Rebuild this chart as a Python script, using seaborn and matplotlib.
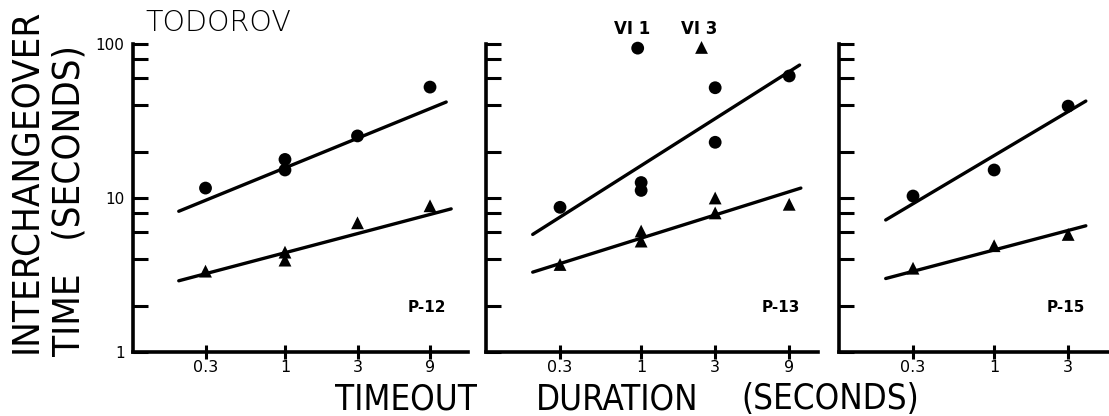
import numpy as np
import pandas as pd
import matplotlib
matplotlib.use("Agg")
import matplotlib.pyplot as plt
import matplotlib.ticker as mticker
from matplotlib import font_manager
import seaborn as sns

# ---- data ----
panels = ["P-12", "P-13", "P-15"]

p12_circ_x = [0.3, 1, 1, 3, 9]
p12_circ_y = [11.6, 17.8, 15.2, 25.3, 52.5]
p12_tri_x = [0.3, 1, 1, 3, 9]
p12_tri_y = [3.35, 4.45, 3.95, 6.9, 8.9]

p13_circ_x = [0.3, 1, 1, 3, 3, 9, 0.95]
p13_circ_y = [8.7, 12.6, 11.2, 52, 23, 62, 94]
p13_tri_x = [0.3, 1, 1, 3, 3, 9, 2.45]
p13_tri_y = [3.7, 6.1, 5.25, 10, 8.0, 9.1, 95]

p15_circ_x = [0.3, 1, 3]
p15_circ_y = [10.3, 15.2, 39.5]
p15_tri_x = [0.3, 1, 3]
p15_tri_y = [3.5, 4.9, 5.8]

# fitted lines (end points)
fit_x = {"P-12": [0.2, 11.5], "P-13": [0.2, 10.5], "P-15": [0.2, 3.9]}
fit_circ_y = {"P-12": [8.2, 42], "P-13": [5.8, 73], "P-15": [7.2, 42.6]}
fit_tri_x = {"P-12": [0.2, 12.4], "P-13": [0.2, 10.7], "P-15": [0.2, 3.9]}
fit_tri_y = {"P-12": [2.9, 8.5], "P-13": [3.3, 11.6], "P-15": [3.0, 6.6]}

x_ticks = {"P-12": [0.3, 1, 3, 9], "P-13": [0.3, 1, 3, 9], "P-15": [0.3, 1, 3]}
x_ticklabels = {"P-12": ["0.3", "1", "3", "9"], "P-13": ["0.3", "1", "3", "9"],
                "P-15": ["0.3", "1", "3"]}
y_ticks = [1, 10, 100]
y_ticklabels = ["1", "10", "100"]

rows = []
for name, cx, cy, tx, ty in [("P-12", p12_circ_x, p12_circ_y, p12_tri_x, p12_tri_y),
                             ("P-13", p13_circ_x, p13_circ_y, p13_tri_x, p13_tri_y),
                             ("P-15", p15_circ_x, p15_circ_y, p15_tri_x, p15_tri_y)]:
    for x, y in zip(cx, cy):
        rows.append((name, x, y, "circle"))
    for x, y in zip(tx, ty):
        rows.append((name, x, y, "triangle"))
df = pd.DataFrame(rows, columns=["panel", "timeout", "ico", "kind"])

fit_rows = []
for name in panels:
    for x, y in zip(fit_x[name], fit_circ_y[name]):
        fit_rows.append((name, x, y, "circle"))
    for x, y in zip(fit_tri_x[name], fit_tri_y[name]):
        fit_rows.append((name, x, y, "triangle"))
fits = pd.DataFrame(fit_rows, columns=["panel", "timeout", "ico", "kind"])

# ---- style ----
sns.set_style("ticks")
plt.rcParams["font.family"] = ["DejaVu Sans"]
plt.rcParams["text.color"] = "black"
plt.rcParams["xtick.color"] = "black"
plt.rcParams["ytick.color"] = "black"
plt.rcParams["axes.edgecolor"] = "black"

# look for a narrow face for the big hand-lettered labels
big = {"family": "DejaVu Sans", "stretch": "normal"}
narrow = False
for f in font_manager.fontManager.ttflist:
    if "Narrow" in f.name or "Condensed" in f.name:
        big = {"family": f.name, "stretch": "normal"}
        narrow = True
        break
    if f.stretch in ("condensed", "semi-condensed", "extra-condensed"):
        big = {"family": f.name, "stretch": f.stretch}
        narrow = True
        break
big_size = 25 if narrow else 21
ylab_size = 27.5 if narrow else 22

W, H = 1109, 416
fig = plt.figure(figsize=(W / 100, H / 100), dpi=100)

# axes boxes in pixels: left, right ; x range
boxes = {"P-12": (133, 468, 16.0), "P-13": (486, 818, 13.8), "P-15": (839, 1109, 5.5)}
label_x = {"P-12": 0.935, "P-13": 0.945, "P-15": 0.91}
top_px, bot_px = 44, 352

for name in panels:
    l, r, xmax = boxes[name]
    ax = fig.add_axes([l / W, 1 - bot_px / H, (r - l) / W, (bot_px - top_px) / H])
    sub = df[df.panel == name]
    fsub = fits[fits.panel == name]
    sns.lineplot(data=fsub, x="timeout", y="ico", units="kind", estimator=None,
                 color="black", lw=2.4, ax=ax, legend=False)
    sns.scatterplot(data=sub, x="timeout", y="ico", style="kind",
                    markers={"circle": "o", "triangle": "^"}, color="black",
                    s=85, edgecolor="black", linewidth=0, ax=ax, legend=False,
                    clip_on=False, zorder=3)
    ax.set_xscale("log")
    ax.set_yscale("log")
    ax.set_xlim(0.1, xmax)
    ax.set_ylim(1, 100)
    ax.set_xlabel("")
    ax.set_ylabel("")
    for s in ["top", "right"]:
        ax.spines[s].set_visible(False)
    for s in ["left", "bottom"]:
        ax.spines[s].set_linewidth(2.6)
    ax.set_xticks(x_ticks[name])
    ax.set_xticklabels(x_ticklabels[name])
    ax.xaxis.set_minor_locator(mticker.NullLocator())
    ax.tick_params(axis="x", which="major", direction="inout", length=10, width=2.2,
                   labelsize=11.5, pad=1)
    ax.set_yticks(y_ticks)
    ax.yaxis.set_minor_locator(mticker.LogLocator(base=10, subs=[2, 4, 6, 8]))
    ax.yaxis.set_minor_formatter(mticker.NullFormatter())
    ax.tick_params(axis="y", which="both", direction="in", length=11, width=2.2)
    if name == "P-12":
        ax.set_yticklabels(y_ticklabels)
        ax.tick_params(axis="y", labelsize=11, pad=6)
    else:
        ax.set_yticklabels([])
    ax.text(label_x[name], 0.145, name, transform=ax.transAxes,
            ha="right", va="center", fontsize=11, fontweight="bold")
    if name == "P-13":
        ax.text(0.875, 125, "VI 1", ha="center", va="center", fontsize=12,
                fontweight="bold")
        ax.text(2.37, 125, "VI 3", ha="center", va="center", fontsize=12,
                fontweight="bold")

fig.text(145 / W, 1 - 23 / H, "TODOROV", ha="left", va="center", fontsize=20.5,
         family="DejaVu Sans", fontweight="light")
fig.text(27 / W, 1 - 181 / H, "INTERCHANGEOVER", rotation=90, ha="center",
         va="center", fontsize=ylab_size, **big)
fig.text(70 / W, 1 - 200 / H, "TIME   (SECONDS)", rotation=90, ha="center",
         va="center", fontsize=ylab_size, **big)
fig.text(406 / W, 1 - 409 / H, "TIMEOUT", ha="center", va="baseline",
         fontsize=big_size, **big)
fig.text(617 / W, 1 - 409 / H, "DURATION", ha="center", va="baseline",
         fontsize=big_size, **big)
fig.text(830 / W, 1 - 409 / H, "(SECONDS)", ha="center", va="baseline",
         fontsize=big_size, **big)

fig.savefig("out.png", dpi=100)
